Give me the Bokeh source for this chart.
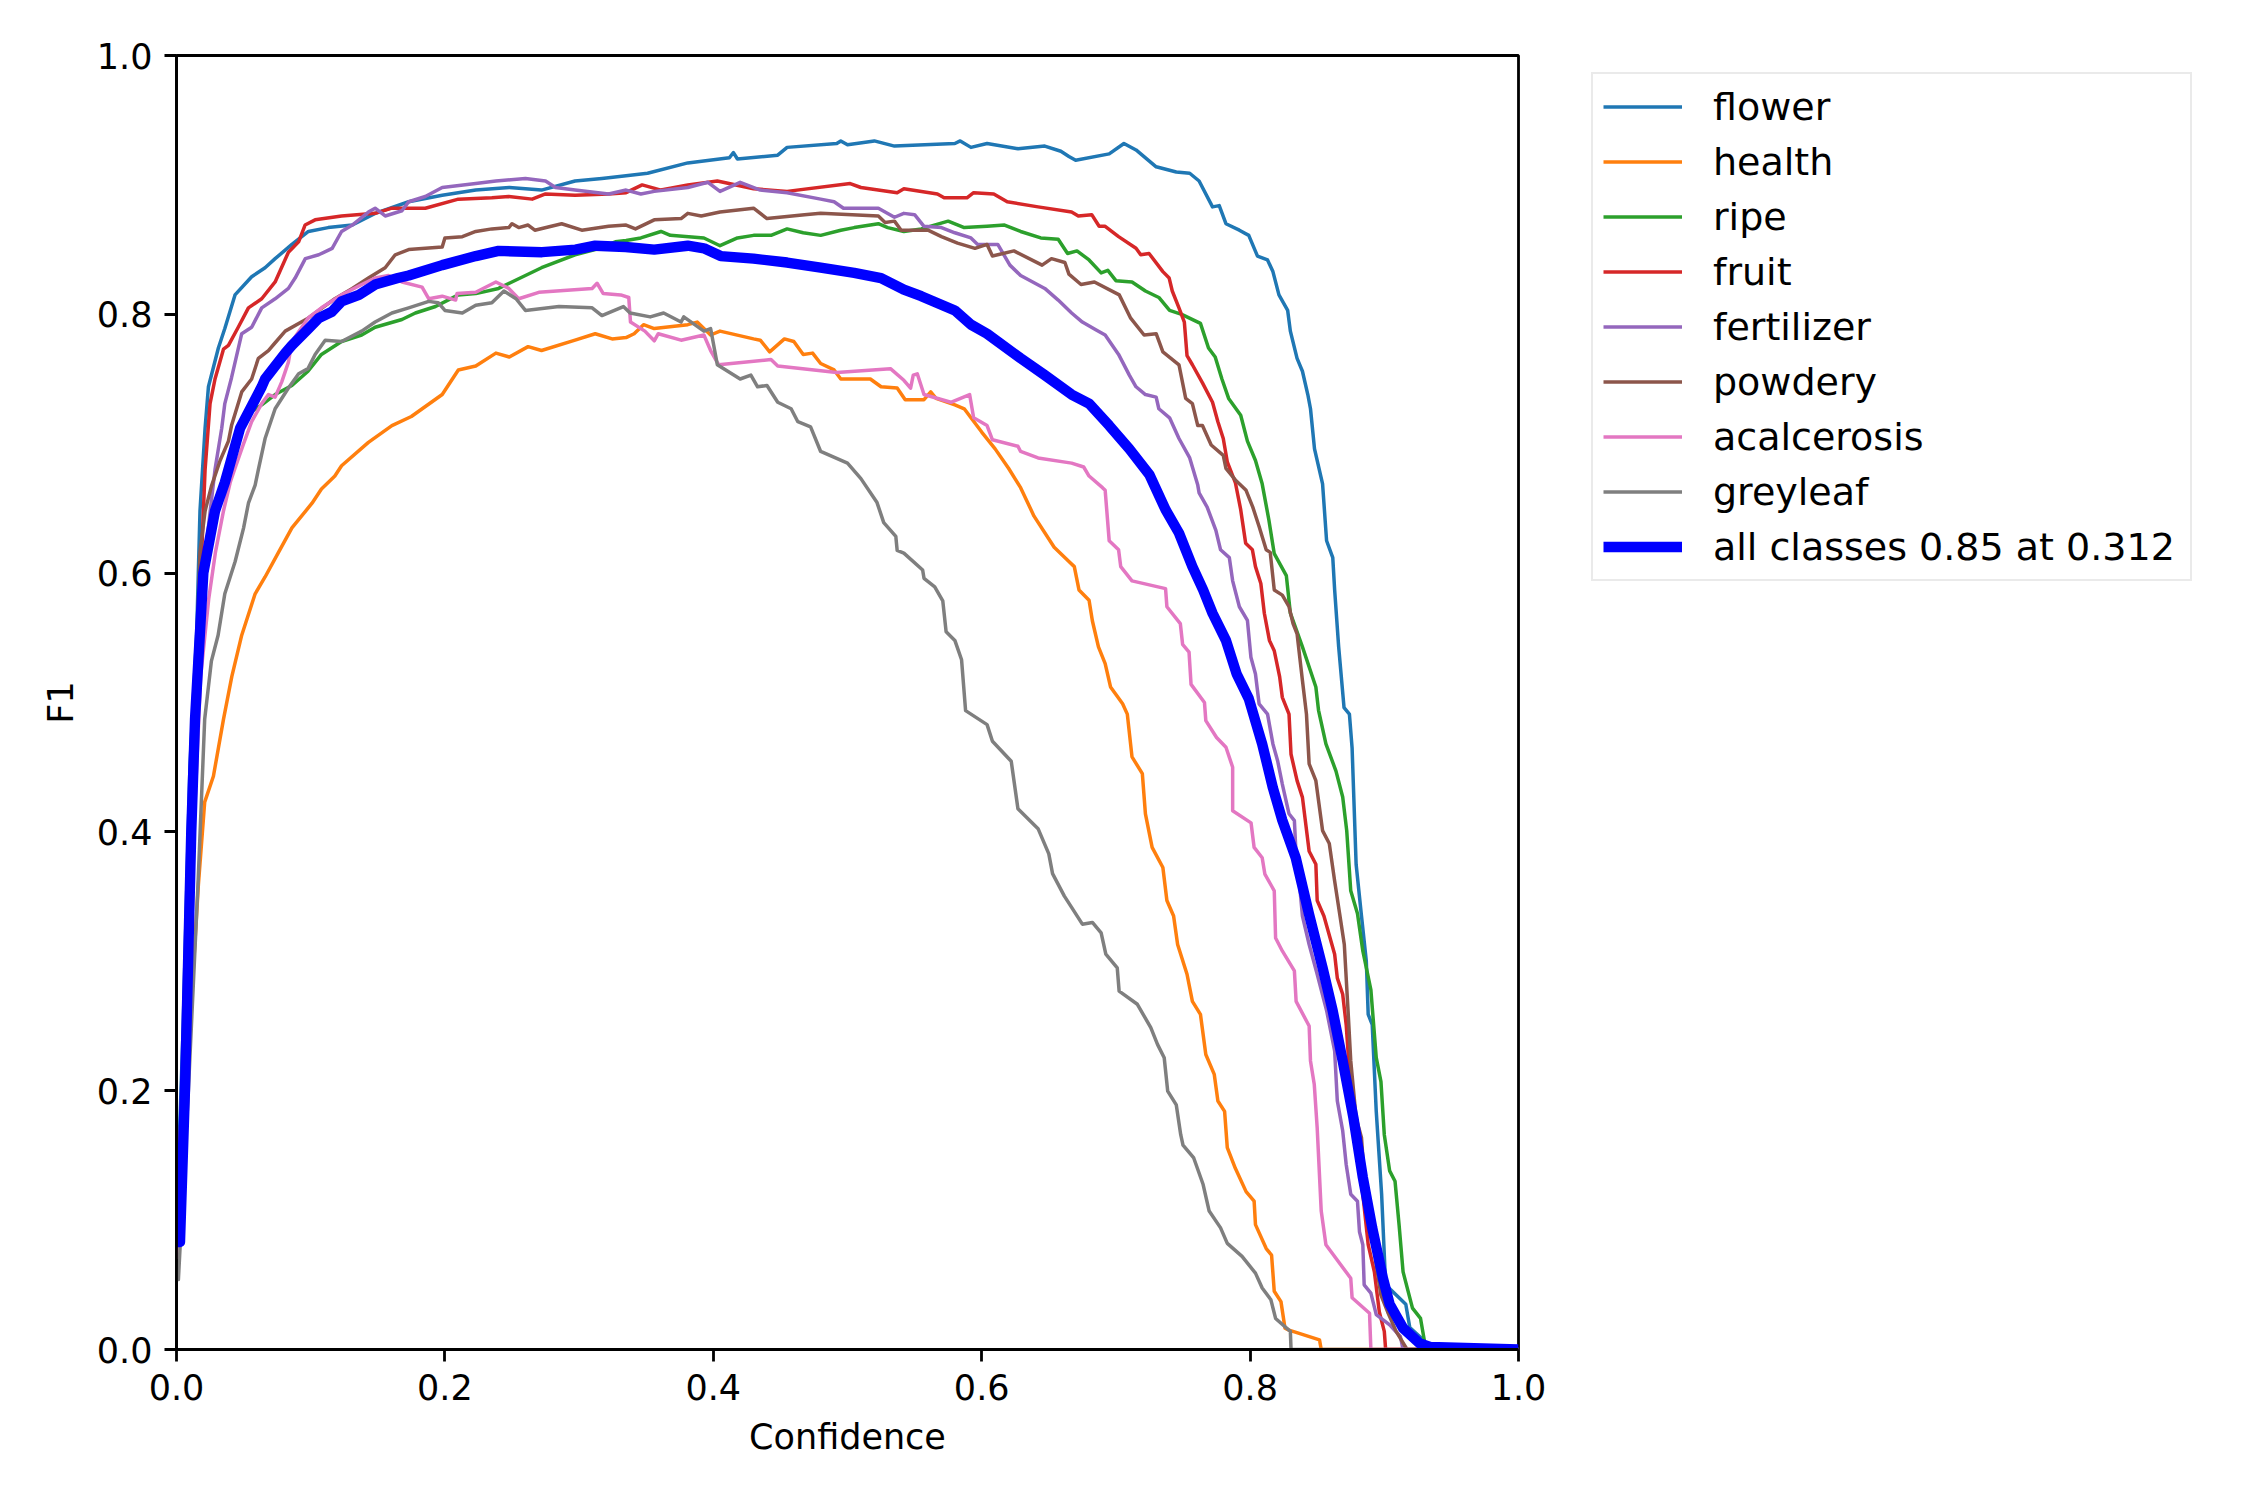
from bokeh.plotting import figure
from bokeh.models import Range1d, FixedTicker, NumeralTickFormatter, Legend, LegendItem
from bokeh.embed import file_html
from bokeh.resources import INLINE

# ---------------- data ----------------
flower_x = [0.0, 0.005, 0.010, 0.015, 0.0175, 0.0213, 0.0238, 0.0312, 0.036, 0.0436, 0.056, 0.066, 0.0735, 0.086, 0.0983, 0.113, 0.131, 0.148, 0.173, 0.198, 0.223, 0.248, 0.272, 0.297, 0.317, 0.335, 0.351, 0.381, 0.412, 0.415, 0.418, 0.448, 0.455, 0.492, 0.495, 0.500, 0.520, 0.535, 0.580, 0.584, 0.592, 0.604, 0.627, 0.647, 0.659, 0.665, 0.670, 0.695, 0.706, 0.715, 0.730, 0.745, 0.755, 0.762, 0.772, 0.777, 0.782, 0.792, 0.799, 0.8055, 0.813, 0.817, 0.8215, 0.828, 0.830, 0.835, 0.839, 0.843, 0.845, 0.848, 0.854, 0.857, 0.8616, 0.863, 0.866, 0.870, 0.874, 0.876, 0.879, 0.883, 0.8866, 0.888, 0.891, 0.894, 0.898, 0.901, 0.916, 0.919, 0.929, 0.933, 1.0]
flower_y = [0.10, 0.25, 0.45, 0.552, 0.648, 0.712, 0.744, 0.774, 0.789, 0.815, 0.829, 0.836, 0.843, 0.854, 0.864, 0.867, 0.869, 0.878, 0.887, 0.892, 0.896, 0.898, 0.896, 0.903, 0.905, 0.907, 0.909, 0.917, 0.921, 0.925, 0.920, 0.923, 0.929, 0.932, 0.934, 0.931, 0.934, 0.930, 0.932, 0.934, 0.929, 0.932, 0.928, 0.930, 0.926, 0.922, 0.919, 0.924, 0.932, 0.927, 0.914, 0.910, 0.909, 0.903, 0.883, 0.884, 0.870, 0.865, 0.861, 0.845, 0.842, 0.833, 0.815, 0.803, 0.787, 0.766, 0.756, 0.738, 0.727, 0.696, 0.669, 0.625, 0.612, 0.587, 0.543, 0.496, 0.491, 0.465, 0.375, 0.335, 0.300, 0.259, 0.251, 0.184, 0.120, 0.050, 0.035, 0.017, 0.0075, 0.0, 0.0]

health_x = [0.0, 0.004, 0.0076, 0.0126, 0.0163, 0.021, 0.0275, 0.035, 0.0412, 0.0486, 0.0586, 0.066, 0.076, 0.086, 0.101, 0.108, 0.118, 0.123, 0.143, 0.1605, 0.175, 0.198, 0.210, 0.223, 0.238, 0.248, 0.262, 0.272, 0.297, 0.312, 0.3246, 0.335, 0.341, 0.348, 0.356, 0.381, 0.388, 0.398, 0.405, 0.430, 0.435, 0.442, 0.453, 0.460, 0.467, 0.474, 0.480, 0.490, 0.495, 0.517, 0.525, 0.537, 0.543, 0.557, 0.562, 0.566, 0.580, 0.587, 0.592, 0.600, 0.610, 0.620, 0.629, 0.639, 0.654, 0.665, 0.669, 0.6725, 0.680, 0.6825, 0.687, 0.692, 0.696, 0.705, 0.7085, 0.712, 0.7197, 0.722, 0.727, 0.735, 0.738, 0.743, 0.746, 0.753, 0.757, 0.763, 0.767, 0.7733, 0.776, 0.781, 0.783, 0.789, 0.797, 0.803, 0.804, 0.812, 0.816, 0.818, 0.823, 0.826, 0.829, 0.8517, 0.853, 1.0]
health_y = [0.07, 0.15, 0.199, 0.295, 0.359, 0.423, 0.443, 0.487, 0.520, 0.552, 0.584, 0.597, 0.616, 0.635, 0.654, 0.665, 0.675, 0.683, 0.701, 0.714, 0.721, 0.738, 0.757, 0.760, 0.770, 0.767, 0.775, 0.772, 0.780, 0.785, 0.781, 0.782, 0.785, 0.792, 0.789, 0.792, 0.794, 0.784, 0.787, 0.781, 0.780, 0.771, 0.781, 0.779, 0.769, 0.770, 0.762, 0.757, 0.750, 0.750, 0.744, 0.743, 0.734, 0.734, 0.740, 0.735, 0.730, 0.727, 0.720, 0.709, 0.696, 0.681, 0.666, 0.644, 0.620, 0.609, 0.605, 0.587, 0.579, 0.563, 0.543, 0.530, 0.512, 0.499, 0.491, 0.458, 0.445, 0.414, 0.388, 0.3725, 0.347, 0.335, 0.313, 0.290, 0.269, 0.259, 0.228, 0.2126, 0.192, 0.184, 0.156, 0.140, 0.122, 0.1146, 0.0965, 0.078, 0.073, 0.045, 0.037, 0.0165, 0.015, 0.0075, 0.0, 0.0]

ripe_x = [0.0, 0.006, 0.011, 0.016, 0.022, 0.030, 0.041, 0.0436, 0.056, 0.0635, 0.0735, 0.086, 0.098, 0.108, 0.123, 0.138, 0.148, 0.168, 0.178, 0.193, 0.210, 0.223, 0.240, 0.260, 0.272, 0.297, 0.312, 0.327, 0.335, 0.346, 0.361, 0.368, 0.393, 0.405, 0.418, 0.430, 0.443, 0.455, 0.467, 0.480, 0.495, 0.505, 0.523, 0.530, 0.542, 0.555, 0.575, 0.587, 0.604, 0.617, 0.629, 0.644, 0.657, 0.664, 0.671, 0.680, 0.689, 0.694, 0.700, 0.712, 0.722, 0.732, 0.740, 0.749, 0.763, 0.769, 0.774, 0.779, 0.784, 0.793, 0.798, 0.804, 0.809, 0.814, 0.818, 0.827, 0.830, 0.839, 0.849, 0.851, 0.8565, 0.864, 0.869, 0.872, 0.875, 0.880, 0.884, 0.890, 0.894, 0.8975, 0.900, 0.904, 0.908, 0.911, 0.914, 0.921, 0.927, 0.931, 1.0]
ripe_y = [0.08, 0.22, 0.40, 0.52, 0.60, 0.645, 0.690, 0.702, 0.725, 0.730, 0.738, 0.745, 0.756, 0.769, 0.779, 0.784, 0.790, 0.796, 0.801, 0.806, 0.815, 0.816, 0.820, 0.830, 0.836, 0.846, 0.850, 0.856, 0.857, 0.859, 0.864, 0.861, 0.859, 0.853, 0.859, 0.861, 0.861, 0.866, 0.863, 0.861, 0.865, 0.867, 0.870, 0.867, 0.864, 0.866, 0.872, 0.867, 0.868, 0.869, 0.864, 0.859, 0.858, 0.847, 0.849, 0.842, 0.832, 0.834, 0.826, 0.825, 0.818, 0.813, 0.803, 0.800, 0.793, 0.774, 0.767, 0.750, 0.735, 0.722, 0.702, 0.687, 0.669, 0.641, 0.615, 0.598, 0.569, 0.543, 0.512, 0.494, 0.468, 0.447, 0.427, 0.401, 0.3545, 0.337, 0.308, 0.278, 0.2255, 0.207, 0.166, 0.138, 0.130, 0.0965, 0.060, 0.032, 0.024, 0.0, 0.0]

fruit_x = [0.0, 0.006, 0.011, 0.0163, 0.0188, 0.0213, 0.025, 0.0287, 0.035, 0.0387, 0.046, 0.0536, 0.0635, 0.0735, 0.0834, 0.091, 0.0958, 0.1033, 0.123, 0.148, 0.1605, 0.1854, 0.210, 0.235, 0.2476, 0.265, 0.275, 0.297, 0.322, 0.335, 0.347, 0.361, 0.381, 0.403, 0.430, 0.455, 0.502, 0.510, 0.537, 0.542, 0.567, 0.572, 0.589, 0.594, 0.609, 0.619, 0.642, 0.667, 0.672, 0.682, 0.6875, 0.692, 0.702, 0.715, 0.7185, 0.7247, 0.735, 0.7397, 0.742, 0.747, 0.751, 0.753, 0.757, 0.7645, 0.772, 0.776, 0.780, 0.783, 0.789, 0.793, 0.7967, 0.8017, 0.804, 0.808, 0.8106, 0.8144, 0.818, 0.822, 0.824, 0.829, 0.8305, 0.835, 0.839, 0.844, 0.849, 0.850, 0.855, 0.863, 0.865, 0.869, 0.8716, 0.876, 0.879, 0.884, 0.888, 0.8926, 0.8963, 0.900, 0.901, 1.0]
fruit_y = [0.09, 0.25, 0.43, 0.552, 0.616, 0.680, 0.731, 0.750, 0.773, 0.776, 0.790, 0.805, 0.812, 0.825, 0.848, 0.856, 0.869, 0.873, 0.876, 0.878, 0.882, 0.882, 0.889, 0.890, 0.891, 0.889, 0.893, 0.892, 0.893, 0.894, 0.900, 0.896, 0.900, 0.903, 0.897, 0.895, 0.901, 0.898, 0.894, 0.897, 0.893, 0.890, 0.890, 0.894, 0.893, 0.887, 0.883, 0.879, 0.876, 0.877, 0.868, 0.868, 0.860, 0.851, 0.846, 0.847, 0.833, 0.828, 0.818, 0.805, 0.794, 0.768, 0.761, 0.747, 0.732, 0.717, 0.704, 0.686, 0.670, 0.649, 0.623, 0.618, 0.605, 0.592, 0.569, 0.548, 0.540, 0.520, 0.504, 0.491, 0.460, 0.4396, 0.4267, 0.385, 0.375, 0.347, 0.335, 0.3055, 0.287, 0.2745, 0.251, 0.184, 0.158, 0.120, 0.081, 0.060, 0.029, 0.014, 0.0, 0.0]

fertilizer_x = [0.0, 0.006, 0.011, 0.016, 0.022, 0.0287, 0.0337, 0.036, 0.041, 0.0486, 0.056, 0.0635, 0.0735, 0.0834, 0.0884, 0.096, 0.106, 0.116, 0.123, 0.131, 0.143, 0.148, 0.1555, 0.168, 0.173, 0.1854, 0.198, 0.223, 0.238, 0.260, 0.275, 0.2824, 0.297, 0.322, 0.335, 0.346, 0.356, 0.381, 0.396, 0.405, 0.420, 0.435, 0.455, 0.480, 0.490, 0.497, 0.523, 0.535, 0.542, 0.550, 0.557, 0.570, 0.580, 0.592, 0.597, 0.612, 0.621, 0.629, 0.647, 0.657, 0.667, 0.675, 0.685, 0.692, 0.702, 0.710, 0.715, 0.722, 0.730, 0.732, 0.740, 0.747, 0.755, 0.761, 0.762, 0.768, 0.7745, 0.778, 0.7845, 0.787, 0.792, 0.798, 0.8006, 0.804, 0.8067, 0.813, 0.817, 0.8205, 0.824, 0.829, 0.833, 0.834, 0.8366, 0.839, 0.844, 0.850, 0.857, 0.863, 0.865, 0.869, 0.8716, 0.875, 0.880, 0.8815, 0.884, 0.885, 0.890, 0.894, 0.904, 0.912, 0.914, 1.0]
fertilizer_y = [0.09, 0.22, 0.42, 0.54, 0.62, 0.680, 0.712, 0.731, 0.751, 0.785, 0.790, 0.805, 0.812, 0.820, 0.828, 0.843, 0.846, 0.851, 0.864, 0.869, 0.879, 0.882, 0.876, 0.880, 0.887, 0.891, 0.898, 0.901, 0.903, 0.905, 0.903, 0.898, 0.896, 0.893, 0.896, 0.893, 0.895, 0.898, 0.902, 0.895, 0.902, 0.896, 0.894, 0.889, 0.887, 0.882, 0.882, 0.875, 0.878, 0.877, 0.868, 0.867, 0.863, 0.859, 0.854, 0.854, 0.838, 0.830, 0.820, 0.811, 0.801, 0.794, 0.788, 0.784, 0.769, 0.753, 0.744, 0.738, 0.736, 0.727, 0.720, 0.704, 0.689, 0.668, 0.662, 0.651, 0.633, 0.618, 0.612, 0.594, 0.574, 0.5635, 0.535, 0.522, 0.499, 0.491, 0.468, 0.455, 0.437, 0.414, 0.4087, 0.388, 0.362, 0.335, 0.313, 0.290, 0.262, 0.2307, 0.192, 0.169, 0.143, 0.120, 0.1146, 0.091, 0.081, 0.050, 0.0436, 0.027, 0.019, 0.010, 0.0, 0.0]

powdery_x = [0.0, 0.006, 0.011, 0.0175, 0.0213, 0.026, 0.0325, 0.0387, 0.041, 0.0486, 0.056, 0.061, 0.0685, 0.0735, 0.081, 0.098, 0.106, 0.118, 0.131, 0.143, 0.1555, 0.163, 0.173, 0.198, 0.200, 0.213, 0.223, 0.235, 0.2476, 0.250, 0.255, 0.262, 0.267, 0.287, 0.302, 0.322, 0.335, 0.342, 0.356, 0.376, 0.381, 0.391, 0.405, 0.430, 0.440, 0.468, 0.480, 0.523, 0.528, 0.535, 0.540, 0.560, 0.570, 0.582, 0.595, 0.604, 0.608, 0.624, 0.645, 0.652, 0.662, 0.665, 0.674, 0.684, 0.7025, 0.711, 0.721, 0.730, 0.735, 0.747, 0.752, 0.757, 0.761, 0.7645, 0.771, 0.780, 0.782, 0.789, 0.797, 0.802, 0.8067, 0.812, 0.815, 0.818, 0.824, 0.829, 0.832, 0.835, 0.839, 0.842, 0.844, 0.849, 0.854, 0.859, 0.863, 0.8667, 0.8702, 0.873, 0.875, 0.879, 0.883, 0.886, 0.890, 0.894, 0.8975, 0.9025, 0.9088, 0.917, 1.0]
powdery_y = [0.08, 0.22, 0.42, 0.616, 0.648, 0.667, 0.687, 0.702, 0.714, 0.740, 0.750, 0.766, 0.772, 0.778, 0.787, 0.797, 0.803, 0.812, 0.820, 0.828, 0.836, 0.846, 0.850, 0.852, 0.859, 0.860, 0.864, 0.866, 0.867, 0.870, 0.867, 0.869, 0.865, 0.870, 0.865, 0.868, 0.869, 0.866, 0.873, 0.874, 0.878, 0.876, 0.879, 0.882, 0.874, 0.877, 0.878, 0.876, 0.871, 0.872, 0.865, 0.865, 0.860, 0.855, 0.851, 0.854, 0.845, 0.849, 0.838, 0.843, 0.840, 0.831, 0.823, 0.825, 0.815, 0.797, 0.784, 0.785, 0.771, 0.761, 0.735, 0.731, 0.714, 0.714, 0.699, 0.691, 0.681, 0.672, 0.664, 0.651, 0.636, 0.618, 0.616, 0.587, 0.583, 0.574, 0.561, 0.553, 0.517, 0.491, 0.4525, 0.4396, 0.401, 0.391, 0.362, 0.337, 0.313, 0.2616, 0.223, 0.179, 0.1636, 0.120, 0.1017, 0.0655, 0.042, 0.029, 0.014, 0.0, 0.0]

acalcerosis_x = [0.0, 0.007, 0.012, 0.018, 0.024, 0.029, 0.035, 0.040, 0.0436, 0.050, 0.056, 0.0635, 0.0685, 0.0735, 0.0785, 0.0834, 0.086, 0.098, 0.108, 0.123, 0.138, 0.148, 0.158, 0.168, 0.183, 0.188, 0.198, 0.208, 0.209, 0.223, 0.238, 0.2476, 0.255, 0.270, 0.3097, 0.3134, 0.318, 0.331, 0.337, 0.3383, 0.349, 0.356, 0.359, 0.376, 0.393, 0.398, 0.404, 0.443, 0.448, 0.492, 0.532, 0.542, 0.547, 0.549, 0.552, 0.557, 0.577, 0.591, 0.594, 0.604, 0.608, 0.627, 0.629, 0.642, 0.667, 0.676, 0.680, 0.690, 0.692, 0.695, 0.702, 0.7036, 0.712, 0.737, 0.738, 0.748, 0.7497, 0.7545, 0.756, 0.766, 0.767, 0.775, 0.782, 0.787, 0.787, 0.8007, 0.803, 0.809, 0.811, 0.818, 0.819, 0.824, 0.833, 0.8343, 0.844, 0.845, 0.8478, 0.850, 0.853, 0.8565, 0.875, 0.876, 0.889, 0.890, 1.0]
acalcerosis_y = [0.07, 0.18, 0.38, 0.52, 0.58, 0.616, 0.648, 0.670, 0.681, 0.700, 0.717, 0.731, 0.738, 0.736, 0.748, 0.763, 0.779, 0.797, 0.805, 0.815, 0.823, 0.828, 0.830, 0.825, 0.821, 0.812, 0.814, 0.811, 0.816, 0.817, 0.825, 0.820, 0.812, 0.817, 0.820, 0.824, 0.816, 0.815, 0.813, 0.794, 0.787, 0.7795, 0.785, 0.780, 0.784, 0.772, 0.761, 0.765, 0.760, 0.755, 0.758, 0.749, 0.743, 0.753, 0.754, 0.738, 0.732, 0.738, 0.720, 0.714, 0.703, 0.698, 0.694, 0.689, 0.685, 0.682, 0.675, 0.666, 0.664, 0.625, 0.618, 0.605, 0.594, 0.588, 0.574, 0.561, 0.545, 0.539, 0.514, 0.500, 0.486, 0.473, 0.4654, 0.450, 0.4164, 0.407, 0.388, 0.380, 0.3674, 0.3545, 0.318, 0.308, 0.2926, 0.269, 0.250, 0.223, 0.205, 0.171, 0.107, 0.081, 0.055, 0.040, 0.028, 0.0, 0.0]

greyleaf_x = [0.0, 0.0014, 0.0088, 0.016, 0.021, 0.026, 0.031, 0.036, 0.0437, 0.050, 0.0536, 0.0586, 0.061, 0.066, 0.0735, 0.0834, 0.091, 0.098, 0.1033, 0.1108, 0.123, 0.138, 0.148, 0.1605, 0.173, 0.188, 0.195, 0.200, 0.213, 0.223, 0.235, 0.244, 0.253, 0.260, 0.285, 0.3097, 0.317, 0.333, 0.338, 0.353, 0.363, 0.376, 0.378, 0.393, 0.398, 0.403, 0.420, 0.428, 0.433, 0.440, 0.448, 0.458, 0.463, 0.4725, 0.480, 0.500, 0.510, 0.522, 0.527, 0.536, 0.537, 0.542, 0.556, 0.557, 0.565, 0.571, 0.5735, 0.580, 0.585, 0.588, 0.604, 0.608, 0.622, 0.627, 0.642, 0.650, 0.6528, 0.6616, 0.667, 0.675, 0.6825, 0.689, 0.6925, 0.701, 0.7024, 0.716, 0.726, 0.731, 0.736, 0.7386, 0.745, 0.7483, 0.750, 0.758, 0.765, 0.7695, 0.778, 0.783, 0.794, 0.804, 0.809, 0.8155, 0.819, 0.830, 0.8305, 1.0]
greyleaf_y = [0.054, 0.054, 0.199, 0.359, 0.487, 0.532, 0.552, 0.584, 0.609, 0.635, 0.654, 0.668, 0.680, 0.704, 0.727, 0.743, 0.754, 0.758, 0.769, 0.780, 0.779, 0.787, 0.794, 0.801, 0.805, 0.810, 0.809, 0.803, 0.801, 0.807, 0.809, 0.818, 0.812, 0.803, 0.806, 0.805, 0.799, 0.806, 0.801, 0.798, 0.801, 0.794, 0.798, 0.787, 0.789, 0.761, 0.750, 0.753, 0.744, 0.745, 0.732, 0.727, 0.717, 0.713, 0.694, 0.685, 0.673, 0.6545, 0.639, 0.6284, 0.6175, 0.6154, 0.6024, 0.596, 0.5894, 0.5785, 0.5546, 0.548, 0.533, 0.4937, 0.4829, 0.470, 0.4546, 0.4178, 0.4025, 0.383, 0.3678, 0.3504, 0.3417, 0.3287, 0.330, 0.322, 0.3055, 0.295, 0.277, 0.2668, 0.2487, 0.2358, 0.2255, 0.1997, 0.189, 0.166, 0.158, 0.148, 0.1275, 0.107, 0.094, 0.082, 0.072, 0.059, 0.0475, 0.0384, 0.024, 0.014, 0.0, 0.0]

all_x = [0.0, 0.0026, 0.0063, 0.011, 0.0138, 0.020, 0.0287, 0.036, 0.0474, 0.0635, 0.066, 0.081, 0.086, 0.0984, 0.106, 0.1158, 0.123, 0.136, 0.148, 0.165, 0.173, 0.198, 0.223, 0.240, 0.2724, 0.2973, 0.312, 0.3346, 0.356, 0.381, 0.393, 0.4055, 0.430, 0.455, 0.480, 0.505, 0.525, 0.542, 0.555, 0.580, 0.592, 0.604, 0.629, 0.647, 0.667, 0.680, 0.695, 0.710, 0.725, 0.737, 0.747, 0.757, 0.765, 0.772, 0.782, 0.790, 0.799, 0.809, 0.817, 0.824, 0.834, 0.844, 0.854, 0.8615, 0.869, 0.877, 0.884, 0.891, 0.899, 0.904, 0.914, 0.926, 0.934, 1.0]
all_y = [0.083, 0.083, 0.200, 0.400, 0.487, 0.600, 0.648, 0.670, 0.712, 0.744, 0.750, 0.770, 0.776, 0.789, 0.797, 0.802, 0.810, 0.815, 0.823, 0.828, 0.830, 0.838, 0.845, 0.849, 0.848, 0.850, 0.853, 0.852, 0.850, 0.853, 0.851, 0.845, 0.843, 0.840, 0.836, 0.832, 0.828, 0.819, 0.814, 0.803, 0.792, 0.785, 0.766, 0.753, 0.738, 0.731, 0.714, 0.696, 0.676, 0.649, 0.631, 0.605, 0.587, 0.569, 0.548, 0.522, 0.503, 0.468, 0.434, 0.409, 0.380, 0.336, 0.295, 0.262, 0.223, 0.179, 0.133, 0.094, 0.055, 0.035, 0.0165, 0.005, 0.002, 0.0]

class_names = ["flower", "health", "ripe", "fruit", "fertilizer", "powdery", "acalcerosis", "greyleaf"]
class_colors = ["#1f77b4", "#ff7f0e", "#2ca02c", "#d62728", "#9467bd", "#8c564b", "#e377c2", "#7f7f7f"]
all_label = "all classes 0.85 at 0.312"
x_ticks = [0.0, 0.2, 0.4, 0.6, 0.8, 1.0]
y_ticks = [0.0, 0.2, 0.4, 0.6, 0.8, 1.0]

series = [
    (flower_x, flower_y), (health_x, health_y), (ripe_x, ripe_y), (fruit_x, fruit_y),
    (fertilizer_x, fertilizer_y), (powdery_x, powdery_y),
    (acalcerosis_x, acalcerosis_y), (greyleaf_x, greyleaf_y),
]

# ---------------- figure ----------------
FONT = "DejaVu Sans"
p = figure(
    frame_width=1342, frame_height=1294,
    min_border_left=176, min_border_top=55, min_border_right=700, min_border_bottom=135,
    x_range=Range1d(0, 1), y_range=Range1d(0, 1),
    output_backend="svg", toolbar_location=None,
    background_fill_color="white", border_fill_color="white",
)
p.outline_line_color = "black"
p.outline_line_width = 2.8
p.grid.visible = False

for ax in (p.xaxis[0], p.yaxis[0]):
    ax.ticker = FixedTicker(ticks=x_ticks)
    ax.formatter = NumeralTickFormatter(format="0.0")
    ax.axis_line_color = "black"
    ax.axis_line_width = 2.8
    ax.major_tick_line_color = "black"
    ax.major_tick_line_width = 2.8
    ax.major_tick_out = 12
    ax.major_tick_in = 0
    ax.minor_tick_line_color = None
    ax.major_label_text_font = FONT
    ax.major_label_text_font_size = "35px"
    ax.major_label_text_color = "black"
    ax.major_label_standoff = 12
    ax.axis_label_text_font = FONT
    ax.axis_label_text_font_size = "35px"
    ax.axis_label_text_font_style = "normal"
    ax.axis_label_text_color = "black"
p.yaxis[0].ticker = FixedTicker(ticks=y_ticks)
p.xaxis[0].axis_label = "Confidence"
p.yaxis[0].axis_label = "F1"
p.xaxis[0].axis_label_standoff = 14
p.yaxis[0].axis_label_standoff = 13

items = []
for name, color, (xs, ys) in zip(class_names, class_colors, series):
    r = p.line(xs, ys, line_color=color, line_width=3.5, line_join="round")
    items.append(LegendItem(label=name, renderers=[r]))
r_all = p.line(all_x, all_y, line_color="#0000ff", line_width=10.4, line_join="round")
items.append(LegendItem(label=all_label, renderers=[r_all]))

legend = Legend(
    items=items,
    location=(73, 768),
    margin=0,
    padding=10,
    spacing=10,
    glyph_width=79,
    glyph_height=45,
    label_height=45,
    label_width=467,
    label_standoff=31,
    label_text_font=FONT,
    label_text_font_size="38px",
    label_text_color="black",
    border_line_color="#d6d6d6",
    border_line_width=2.8,
    background_fill_color="white",
    background_fill_alpha=1.0,
)
p.add_layout(legend, "right")

open("out.html", "w").write(file_html(p, INLINE))
